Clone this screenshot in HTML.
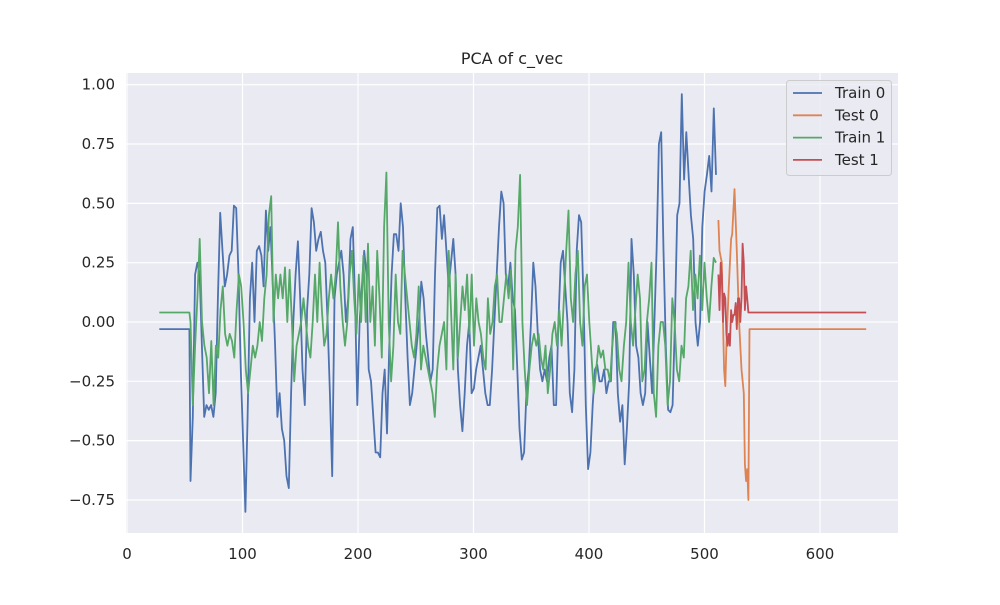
<!DOCTYPE html>
<html><head><meta charset="utf-8"><style>
body{margin:0;background:#fff;}
svg text{font-family:"DejaVu Sans","Liberation Sans",sans-serif;fill:#262626;}
</style></head><body>
<svg id="chart" width="1000" height="600" viewBox="0 0 1000 600">
<rect x="126" y="73" width="772" height="460" fill="#EAEAF2"/>
<g id="grid"></g><g id="ticks"></g><g id="series"></g>
<text x="512" y="64" text-anchor="middle" font-size="16">PCA of c_vec</text>
<g id="legend"></g>
</svg>
<script>
const xTicks=[0,100,200,300,400,500,600];
const yTicks=[-0.75,-0.5,-0.25,0,0.25,0.5,0.75,1.0];
const yTickLabels=["−0.75","−0.50","−0.25","0.00","0.25","0.50","0.75","1.00"];
const seriesNames=["Train 0","Test 0","Train 1","Test 1"];
const train0Flat=[28,54,-0.03];
const train0Start=55, train0End=510;
const train0=[-0.67,-0.4,0.2,0.25,0.2,-0.1,-0.4,-0.35,-0.37,-0.35,-0.4,-0.3,0.1,0.46,0.3,0.15,0.2,0.28,0.3,0.49,0.48,0.2,-0.2,-0.5,-0.8,-0.4,0.1,0.25,0.0,0.3,0.32,0.28,0.15,0.47,0.3,0.4,0.15,-0.1,-0.4,-0.3,-0.45,-0.5,-0.65,-0.7,-0.3,0.0,0.2,0.34,0.1,-0.2,-0.35,0.05,0.2,0.48,0.42,0.3,0.35,0.38,0.3,0.25,0.0,-0.3,-0.65,0.1,0.2,0.25,0.3,0.2,0.0,0.1,0.35,0.4,0.1,-0.35,0.0,0.15,0.3,0.2,-0.2,-0.25,-0.4,-0.55,-0.55,-0.57,-0.3,-0.2,-0.47,-0.1,0.2,0.37,0.37,0.3,0.5,0.4,0.1,-0.15,-0.35,-0.3,-0.2,-0.1,0.0,0.17,0.1,-0.05,-0.15,-0.25,-0.2,0.2,0.48,0.49,0.35,0.45,0.3,0.15,0.25,0.35,0.2,-0.2,-0.35,-0.46,-0.3,-0.1,0.0,-0.3,-0.28,-0.2,-0.15,-0.1,-0.2,-0.3,-0.35,-0.35,-0.2,0.0,0.2,0.4,0.55,0.5,0.2,0.15,0.25,0.1,0.05,-0.2,-0.45,-0.58,-0.55,-0.3,-0.2,0.0,0.25,0.15,-0.05,-0.2,-0.25,-0.2,-0.25,-0.15,-0.1,-0.35,-0.35,0.0,0.25,0.3,0.15,0.0,-0.3,-0.38,-0.2,0.3,0.45,0.42,0.1,-0.35,-0.62,-0.55,-0.35,-0.2,-0.18,-0.25,-0.25,-0.2,-0.3,-0.25,-0.25,0.0,0.0,-0.3,-0.42,-0.35,-0.6,-0.45,-0.25,0.35,0.2,-0.1,-0.15,-0.3,-0.35,-0.3,0.0,-0.15,-0.3,0.0,0.3,0.75,0.8,0.3,-0.1,-0.37,-0.38,-0.35,0.0,0.45,0.5,0.96,0.6,0.8,0.62,0.45,0.35,0.0,-0.1,0.0,0.4,0.55,0.62,0.7,0.55,0.9,0.62];
const train1Flat=[28,54,0.04];
const train1Start=55, train1End=510;
const train1=[0.0,-0.35,-0.1,0.1,0.35,0.0,-0.1,-0.15,-0.3,-0.08,-0.35,-0.1,-0.15,0.05,0.15,-0.05,-0.1,-0.05,-0.08,-0.15,0.05,0.2,0.15,0.0,-0.2,-0.3,-0.2,-0.1,-0.15,-0.1,0.0,-0.08,0.1,0.2,0.45,0.53,0.0,0.2,0.1,0.2,0.1,0.23,0.0,0.22,0.0,-0.25,-0.1,-0.05,0.0,0.1,0.0,-0.1,-0.15,0.0,0.2,0.0,0.25,0.05,-0.1,-0.05,0.1,0.2,0.1,0.2,0.42,0.15,0.0,-0.1,0.0,0.2,0.3,0.1,-0.05,0.2,0.0,0.28,0.0,0.33,0.0,0.15,-0.1,0.3,0.1,-0.15,0.4,0.63,0.0,-0.25,-0.1,0.2,0.0,-0.05,0.3,0.2,0.1,0.0,-0.1,-0.15,-0.05,0.15,-0.2,-0.1,-0.15,-0.2,-0.25,-0.3,-0.4,-0.2,-0.1,-0.05,0.0,-0.2,0.3,0.05,-0.2,0.2,-0.15,0.0,0.15,0.05,0.2,-0.05,0.2,-0.1,0.1,0.0,-0.05,-0.15,-0.2,0.1,-0.05,0.0,0.15,0.2,0.0,0.0,0.1,0.2,0.1,0.22,-0.2,0.3,0.4,0.62,0.0,-0.2,-0.35,-0.2,-0.1,-0.05,-0.1,-0.05,-0.15,-0.2,-0.1,-0.3,-0.2,-0.05,0.0,-0.1,0.05,-0.1,0.1,0.3,0.47,0.1,0.0,0.2,0.3,0.0,-0.1,0.15,0.2,0.0,-0.15,-0.3,-0.2,-0.1,-0.15,-0.12,-0.2,-0.2,-0.25,-0.1,0.0,-0.05,-0.2,-0.25,-0.1,0.0,0.25,0.0,-0.1,0.05,0.2,0.1,-0.25,-0.2,0.0,0.1,0.25,-0.3,-0.4,-0.1,0.0,0.0,-0.1,-0.35,-0.25,0.1,0.0,-0.2,-0.25,-0.1,-0.15,0.1,0.15,0.3,0.05,0.2,0.1,0.28,0.05,0.25,0.1,0.0,0.15,0.27,0.25];
const test0X=[512,513,515,516,517,518,519,521,523,524,526,528,530,532,534,535,536,537,538,539,640];
const test0Y=[0.43,0.3,0.25,0.0,-0.2,-0.27,-0.1,0.15,0.35,0.37,0.56,0.3,0.0,-0.2,-0.3,-0.6,-0.67,-0.62,-0.75,-0.03,-0.03];
const test1X=[512,513,514,515,516,517,518,519,520,521,522,523,524,525,526,527,528,529,530,531,532,533,534,535,536,537,538,640];
const test1Y=[0.2,0.05,0.25,0.2,0.0,0.12,0.1,-0.05,-0.1,-0.05,-0.1,0.05,0.0,0.03,0.03,0.08,-0.03,0.1,0.1,0.0,0.1,0.33,0.25,0.05,0.15,0.1,0.04,0.04];

const NS="http://www.w3.org/2000/svg";
const X=v=>127+v*693/600;
const Y=v=>322-v*237.3;
function mk(tag,attrs,parent){const e=document.createElementNS(NS,tag);for(const k in attrs)e.setAttribute(k,attrs[k]);parent.appendChild(e);return e;}
const grid=document.getElementById('grid'),ticks=document.getElementById('ticks'),ser=document.getElementById('series'),leg=document.getElementById('legend');
xTicks.forEach(t=>{
  const l=mk('line',{x1:X(t),x2:X(t),y1:73,y2:533,stroke:'#fff','stroke-width':1.2},grid);
  
  
  const tx=mk('text',{x:X(t),y:559,'text-anchor':'middle','font-size':15},ticks);
  tx.textContent=t;
  
  
});
yTicks.forEach((t,i)=>{
  const l=mk('line',{x1:126,x2:898,y1:Y(t),y2:Y(t),stroke:'#fff','stroke-width':1.2},grid);
  
  
  const tx=mk('text',{x:115,y:Y(t)+5,'text-anchor':'end','font-size':15},ticks);
  tx.textContent=yTickLabels[i];
  
  
});
function trainPts(flat,start,end,vals){
  const pts=[[flat[0],flat[2]],[flat[1],flat[2]]];
  const step=(end-start)/(vals.length-1);
  vals.forEach((v,i)=>pts.push([start+i*step,v]));
  return pts;
}
function draw(pts,color,name){
  const p=mk('polyline',{points:pts.map(q=>X(q[0]).toFixed(1)+','+Y(q[1]).toFixed(1)).join(' '),fill:'none',stroke:color,'stroke-width':1.8,'stroke-linejoin':'round'},ser);
  
  
}
const colors=["#4C72B0","#DD8452","#55A868","#C44E52"];
draw(trainPts(train0Flat,train0Start,train0End,train0),colors[0],'train-0-line');
draw(trainPts(train1Flat,train1Start,train1End,train1),colors[2],'train-1-line');
draw(test0X.map((x,i)=>[x,test0Y[i]]),colors[1],'test-0-line');
draw(test1X.map((x,i)=>[x,test1Y[i]]),colors[3],'test-1-line');
const box=mk('rect',{x:786.5,y:80.5,width:105,height:95,rx:3,fill:'#EAEAF2','fill-opacity':0.8,stroke:'#ccc'},leg);


seriesNames.forEach((n,i)=>{
  const y=93+i*22.3;
  const g=mk('g',{},leg);
  
  
  mk('line',{x1:793,x2:822,y1:y,y2:y,stroke:colors[i],'stroke-width':1.8},g);
  const t=mk('text',{x:835,y:y+5,'font-size':15},g);
  t.textContent=n;
});
</script>
</body></html>
